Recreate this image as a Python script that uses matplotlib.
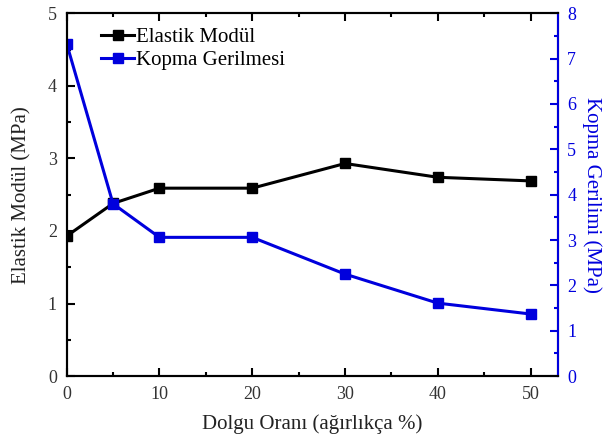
import numpy as np
import matplotlib.pyplot as plt
from matplotlib.ticker import MultipleLocator

plt.rcParams['font.family'] = ['Liberation Serif', 'DejaVu Serif']

# data
dolgu = [0, 5, 10, 20, 30, 40, 50]
elastik = [1.93, 2.38, 2.59, 2.59, 2.93, 2.74, 2.69]
kopma = [7.33, 3.80, 3.06, 3.06, 2.25, 1.61, 1.37]

fig, ax1 = plt.subplots(figsize=(6.06, 4.41), dpi=100)
fig.subplots_adjust(left=0.11, right=0.92, top=0.97, bottom=0.147)

l1, = ax1.plot(dolgu, elastik, color='black', marker='s', ms=7, lw=2.2,
               label='Elastik Modül')
ax2 = ax1.twinx()
l2, = ax2.plot(dolgu, kopma, color='#0000dd', marker='s', ms=7, lw=2.2,
               label='Kopma Gerilmesi')

ax1.set_xlim(0, 52.9)
ax1.set_ylim(0, 5)
ax2.set_ylim(0, 8)
ax1.xaxis.set_major_locator(MultipleLocator(10))
ax1.xaxis.set_minor_locator(MultipleLocator(5))
ax1.yaxis.set_major_locator(MultipleLocator(1))
ax1.yaxis.set_minor_locator(MultipleLocator(0.5))
ax2.yaxis.set_major_locator(MultipleLocator(1))
ax2.yaxis.set_minor_locator(MultipleLocator(0.5))

ax1.tick_params(which='both', direction='in', top=True, labelsize=13, width=1.5,
                pad=7, labelcolor='#333333')
ax1.tick_params(which='major', length=6)
ax1.tick_params(which='minor', length=3)
ax2.tick_params(which='both', direction='in', colors='#0000dd', labelsize=13,
                width=1.5, pad=7)
ax2.tick_params(which='major', length=6)
ax2.tick_params(which='minor', length=3)

for s in ax1.spines.values():
    s.set_linewidth(1.5)
for s in ax2.spines.values():
    s.set_linewidth(1.5)
ax2.spines['right'].set_color('#0000dd')

ax1.set_xlabel('Dolgu Oranı (ağırlıkça %)', fontsize=15, labelpad=8,
               color='#222222')
ax1.set_ylabel('Elastik Modül (MPa)', fontsize=15, labelpad=12,
               color='#222222')
ax2.set_ylabel('Kopma Gerilimi (MPa)', fontsize=15, color='#0000dd',
               rotation=270, labelpad=18)

ax1.legend([l1, l2], ['Elastik Modül', 'Kopma Gerilmesi'], loc='upper left',
           frameon=False, fontsize=15, handlelength=1.6, handletextpad=0.1,
           labelspacing=0.15, borderaxespad=0.3, bbox_to_anchor=(0.04, 1.0))

fig.savefig('out.png', dpi=100)
